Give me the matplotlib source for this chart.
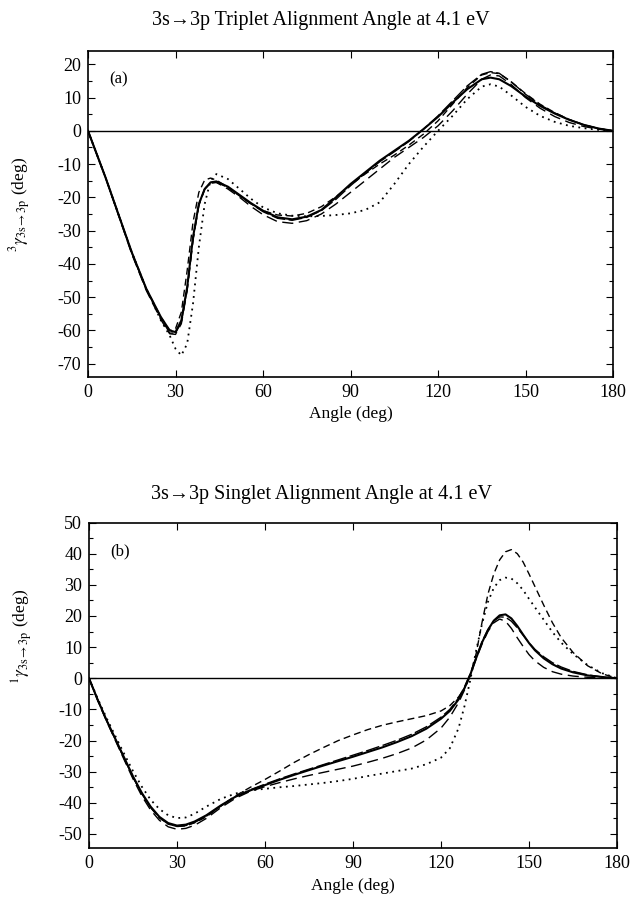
import matplotlib
matplotlib.use("Agg")
import matplotlib.pyplot as plt
from matplotlib.ticker import MultipleLocator

plt.rcParams['font.family'] = ['Liberation Serif', 'DejaVu Serif']
plt.rcParams['mathtext.fontset'] = 'stix'
plt.rcParams['axes.unicode_minus'] = False

# ---------------- data: panel (a) triplet ----------------
ang_a = [0, 3, 6, 10, 15, 20, 25, 28, 30, 32, 34, 36, 38, 40, 42, 44, 48, 52, 56, 60,
         65, 70, 75, 80, 85, 90, 95, 100, 105, 110, 115, 120, 125, 130, 135, 138, 141,
         145, 150, 155, 160, 165, 170, 175, 180]
a_solid = [0, -7, -14, -24, -36.5, -47.5, -56, -60, -60.5, -57, -47, -32, -22, -17.5, -15.5,
           -15.2, -16.8, -19.3, -21.8, -24, -26, -26.6, -25.8, -23.8, -20, -16, -12.5, -9,
           -6, -3, 0.5, 4.2, 8.5, 12.5, 15.5, 16, 15.5, 13.5, 10.3, 7.5, 5.2, 3.3, 1.8, 0.7, 0]
a_long = [0, -7, -14, -24.2, -37, -48, -56.8, -61, -61.2, -58, -48, -33, -22.5, -17.5, -15.5,
          -15.5, -17.5, -20, -22.8, -25.2, -27.3, -27.8, -27, -25, -22, -18.5, -15, -11.5,
          -8, -5, -2, 1.5, 6, 11, 15.5, 16.8, 16.5, 14, 10, 6.8, 4.3, 2.5, 1.3, 0.5, 0]
a_med = [0, -7, -14, -24, -36.5, -47.5, -56, -60, -59.5, -54.5, -42, -27.5, -18.5, -14.8, -14.2,
         -14.8, -17, -19.6, -22, -24, -25.3, -25.6, -24.8, -22.8, -19.8, -16.3, -13, -10,
         -7.3, -4.3, -1, 3, 8, 13, 16.8, 17.5, 17.2, 14.8, 11.2, 8, 5.5, 3.4, 1.8, 0.7, 0]
a_short = [0, -7, -14, -24, -36.6, -47.7, -56.3, -60.8, -60.8, -57.5, -47.5, -32.5, -22.2, -17.5,
           -15.8, -15.5, -17, -19.5, -22, -24.3, -26.3, -26.9, -26, -24, -20.6, -16.5, -12.8,
           -9.3, -6.3, -3.2, 0.5, 4.5, 9, 13.5, 17, 17.8, 17.3, 14.8, 11, 7.8, 5.4, 3.4, 1.8, 0.7, 0]
a_dot = [0, -7, -14, -24, -36.5, -47.5, -57, -61.5, -65.5, -67.5, -64, -52, -35, -22, -15,
         -13, -14.5, -17.5, -20.5, -23, -24.8, -25.5, -25.7, -25.6, -25.3, -24.8, -23.8,
         -21.5, -16, -10, -4.8, 0, 4.5, 9.5, 13.3, 14, 13.3, 10.7, 7.2, 4.5, 2.7, 1.5, 0.8, 0.3, 0]

# ---------------- data: panel (b) singlet ----------------
ang_b = [0, 3, 6, 9, 12, 15, 18, 21, 24, 27, 30, 33, 36, 40, 45, 50, 55, 60, 65, 70, 75, 80,
         85, 90, 95, 100, 105, 110, 115, 120, 123, 126, 128, 130, 132, 134, 136, 138, 140,
         142, 144, 146, 148, 150, 152, 155, 158, 161, 165, 170, 175, 180]
b_solid = [0, -7, -13.5, -19.5, -25.5, -31.5, -36.8, -41.2, -44.5, -46.5, -47.3, -47, -46, -44,
           -40.8, -38, -36, -34.3, -32.6, -31, -29.5, -28, -26.6, -25.2, -23.7, -22.2, -20.5,
           -18.6, -16.2, -13, -10.5, -6.8, -3.2, 1.2, 6.5, 11.5, 15.5, 18.5, 20.2, 20.5, 19.2,
           16.8, 14, 11.3, 9, 6.4, 4.5, 3.1, 1.9, 0.9, 0.4, 0]
b_short = [0, -7, -13.6, -19.7, -25.8, -31.8, -37.1, -41.5, -44.8, -46.8, -47.6, -47.3, -46.3,
           -44.3, -41, -38, -35.8, -34, -32.3, -30.7, -29.2, -27.7, -26.2, -24.7, -23.2, -21.6,
           -19.9, -18, -15.6, -12.5, -10, -6.3, -2.8, 1.5, 6.8, 11.8, 15.6, 18.4, 19.7, 19.6,
           18.3, 16.2, 13.8, 11.4, 9.3, 6.9, 5, 3.6, 2.2, 1.1, 0.4, 0]
b_long = [0, -7.2, -13.8, -20, -26.2, -32.3, -37.8, -42.3, -45.6, -47.7, -48.5, -48.2, -47.2,
          -45, -41.5, -38.5, -36.3, -34.8, -33.5, -32.3, -31.2, -30.2, -29.2, -28.2, -27,
          -25.7, -24.2, -22.4, -19.8, -16, -12.5, -7.8, -3.8, 1, 6.3, 11, 15, 17.8, 19, 18.3,
          16, 13, 10.2, 7.6, 5.6, 3.5, 2.1, 1.3, 0.7, 0.3, 0.1, 0]
b_med = [0, -7, -13.5, -19.6, -25.7, -31.7, -37, -41.5, -44.8, -46.8, -47.6, -47.4, -46.4,
         -44.5, -41, -37.7, -35, -32.5, -29.8, -27, -24.5, -22.2, -20, -18.2, -16.5, -15.1,
         -14, -13, -12, -10.5, -8.8, -6, -3.2, 1, 8, 18, 27, 33.5, 38, 40.6, 41.3, 40, 37.3,
         33.5, 29.5, 23.5, 17.8, 13, 8.3, 4, 1.4, 0]
b_dot = [0, -6.6, -12.8, -18.6, -24.3, -29.8, -34.8, -39, -42, -44, -44.9, -44.7, -43.5, -41.2,
         -38.7, -37, -36, -35.5, -35, -34.6, -34.1, -33.6, -33, -32.3, -31.4, -30.6, -29.8,
         -29, -27.6, -25.5, -22.5, -16, -9, -0.5, 9, 17.5, 24.5, 29, 31.5, 32.3, 32,
         30.5, 28.3, 25.5, 22.8, 18.8, 14.8, 11.4, 7.8, 4.2, 1.6, 0]

x_ticks = [0, 30, 60, 90, 120, 150, 180]
title_a = "3s\u21923p Triplet Alignment Angle at 4.1 eV"
title_b = "3s\u21923p Singlet Alignment Angle at 4.1 eV"
ylab_a = r"$^{3}\gamma_{\mathrm{3s}\rightarrow\mathrm{3p}}$ (deg)"
ylab_b = r"$^{1}\gamma_{\mathrm{3s}\rightarrow\mathrm{3p}}$ (deg)"

styles = [
    dict(color='black', lw=1.5, ls='-'),
    dict(color='black', lw=1.0, ls=(0, (8, 4))),
    dict(color='black', lw=1.0, ls=(0, (5, 3))),
    dict(color='black', lw=1.0, ls=(0, (10, 2.5))),
    dict(color='black', lw=1.3, ls=(0, (1, 2.5))),
]

fig = plt.figure(figsize=(6.3, 8.98), dpi=100)
W, H = 630.0, 898.0
ax1 = fig.add_axes([88 / W, 1 - 377 / H, (613 - 88) / W, (377 - 51) / H])
ax2 = fig.add_axes([89 / W, 1 - 848 / H, (617 - 89) / W, (848 - 522.5) / H])


def style_axes(ax, ylim, yticks, ylab, lab_y, letter, title, title_y):
    ax.axhline(0, color='black', lw=1.0)
    ax.set_xlim(0, 180)
    ax.set_ylim(*ylim)
    ax.set_xticks(x_ticks)
    ax.set_yticks(yticks)
    ax.yaxis.set_minor_locator(MultipleLocator(5))
    ax.tick_params(which='both', direction='in', top=True, right=True,
                   labelsize=13, width=0.8)
    ax.tick_params(which='major', length=5, pad=5)
    ax.tick_params(which='minor', length=3)
    for s in ax.spines.values():
        s.set_linewidth(1.2)
    ax.set_xlabel("Angle (deg)", fontsize=12.5, labelpad=4)
    ax.set_ylabel(ylab, fontsize=12.5)
    ax.yaxis.set_label_coords(-0.105, lab_y)
    ax.text(0.04, 0.9, letter, transform=ax.transAxes, fontsize=12)
    fig.text(0.51, 1 - title_y / H, title, ha='center', va='center', fontsize=14.5)


for ys, st in zip([a_solid, a_long, a_med, a_short, a_dot], styles):
    ax1.plot(ang_a, ys, **st)
for ys, st in zip([b_solid, b_long, b_med, b_short, b_dot], styles):
    ax2.plot(ang_b, ys, **st)

style_axes(ax1, (-74, 24), list(range(-70, 21, 10)), ylab_a, 0.53, "(a)", title_a, 20)
style_axes(ax2, (-54.5, 50), list(range(-50, 51, 10)), ylab_b, 0.65, "(b)", title_b, 495)

fig.savefig("out.png", dpi=100)
